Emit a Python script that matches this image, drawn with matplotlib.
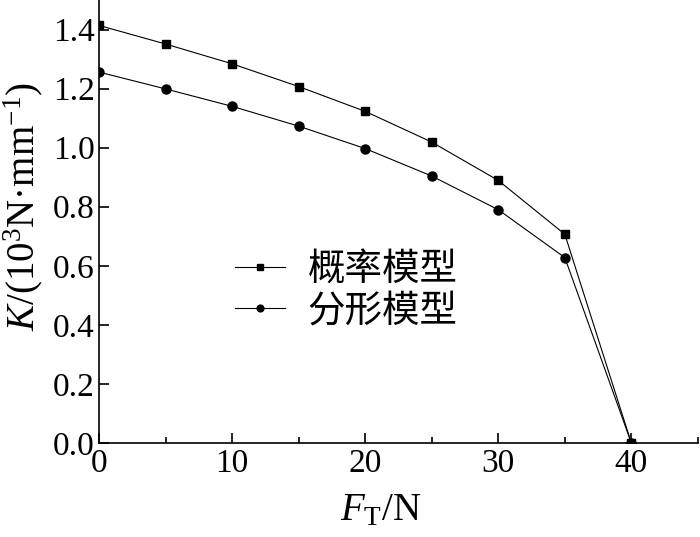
import matplotlib
matplotlib.use("Agg")
import matplotlib.pyplot as plt
from matplotlib.ticker import MultipleLocator

plt.rcParams['font.family'] = ['Liberation Serif', 'Noto Sans CJK SC']
plt.rcParams['mathtext.fontset'] = 'custom'
plt.rcParams['mathtext.rm'] = 'Liberation Serif'
plt.rcParams['mathtext.it'] = 'Liberation Serif:italic'

# data
force = [0, 5, 10, 15, 20, 25, 30, 35, 40]
k_prob = [1.414, 1.351, 1.284, 1.207, 1.123, 1.019, 0.889, 0.707, 0.0]
k_frac = [1.256, 1.199, 1.140, 1.073, 0.997, 0.904, 0.790, 0.628, 0.0]
labels = ['概率模型', '分形模型']
yticks = [0.0, 0.2, 0.4, 0.6, 0.8, 1.0, 1.2, 1.4]

fig = plt.figure(figsize=(7.0, 5.37), dpi=100)
ax = fig.add_axes([0.1414, 0.175, 0.8556, 0.825])

ax.plot(force, k_prob, color='black', lw=0.8, marker='s', ms=6, label=labels[0])
ax.plot(force, k_frac, color='black', lw=0.8, marker='o', ms=6.5, label=labels[1])

ax.set_xlim(0, 45)
ax.set_ylim(0, 1.5)
ax.xaxis.set_major_locator(MultipleLocator(10))
ax.xaxis.set_minor_locator(MultipleLocator(5))
ax.set_yticks(yticks)
ax.set_yticklabels(['%.1f' % v for v in yticks])

for side in ['top', 'right']:
    ax.spines[side].set_visible(False)
for side in ['left', 'bottom']:
    ax.spines[side].set_linewidth(1.2)
ax.tick_params(which='major', direction='in', length=7, width=1.2, labelsize=24)
ax.tick_params(which='minor', direction='in', length=4, width=1.2)
ax.tick_params(axis='y', pad=3)
ax.tick_params(axis='x', pad=4)

ax.set_xlabel(r'$F_{\rm T}$/N', fontsize=28)
ax.set_ylabel(r'$K$/(10$^3$N·mm$^{-1}$)', fontsize=28)
ax.xaxis.set_label_coords(0.471, -0.112)
ax.yaxis.set_label_coords(-0.09, 0.533)

ax.legend(loc='center left', bbox_to_anchor=(0.17, 0.345), frameon=False,
          handlelength=1.35, handletextpad=0.6, labelspacing=0.05, markerscale=0.75,
          prop={'family': ['Noto Sans CJK SC'], 'size': 27})

fig.savefig('out.png', dpi=100)
